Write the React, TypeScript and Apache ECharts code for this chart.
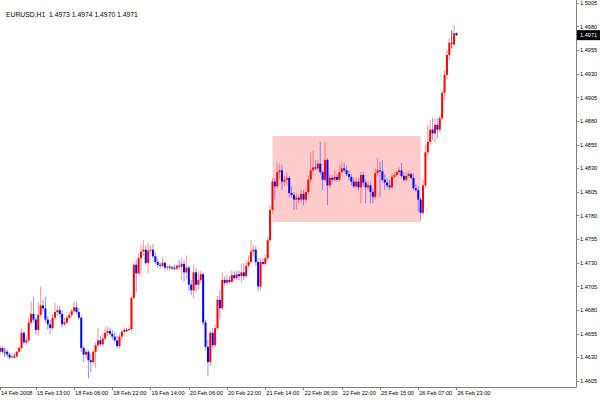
import React, { useEffect, useRef } from "react";
import * as echarts from "echarts";

const symbolLabel = "EURUSD,H1";

const opens = [
  1.4636, 1.4640, 1.4636, 1.4636, 1.4633, 1.4630, 1.4631, 1.4631, 1.4636, 1.4640,
  1.4656, 1.4646, 1.4648, 1.4667, 1.4676, 1.4670, 1.4659, 1.4675, 1.4685, 1.4682,
  1.4670, 1.4665, 1.4661, 1.4672, 1.4678, 1.4680, 1.4676, 1.4665, 1.4667, 1.4672,
  1.4675, 1.4679, 1.4683, 1.4678, 1.4672, 1.4640, 1.4633, 1.4636, 1.4627, 1.4625,
  1.4636, 1.4643, 1.4648, 1.4644, 1.4650, 1.4656, 1.4658, 1.4655, 1.4652, 1.4648,
  1.4642, 1.4652, 1.4657, 1.4659, 1.4659, 1.4660, 1.4693, 1.4728, 1.4719, 1.4735,
  1.4742, 1.4744, 1.4730, 1.4743, 1.4744, 1.4737, 1.4731, 1.4728, 1.4727, 1.4730,
  1.4725, 1.4726, 1.4725, 1.4725, 1.4724, 1.4727, 1.4726, 1.4729, 1.4720, 1.4725,
  1.4707, 1.4701, 1.4720, 1.4707, 1.4712, 1.4718, 1.4667, 1.4641, 1.4625, 1.4656,
  1.4643, 1.4661, 1.4691, 1.4682, 1.4712, 1.4709, 1.4712, 1.4710, 1.4717, 1.4714,
  1.4718, 1.4716, 1.4720, 1.4716, 1.4727, 1.4731, 1.4742, 1.4744, 1.4731, 1.4705,
  1.4731, 1.4729, 1.4735, 1.4754, 1.4786, 1.4816, 1.4811, 1.4826, 1.4828, 1.4816,
  1.4818, 1.4820, 1.4804, 1.4802, 1.4797, 1.4799, 1.4797, 1.4803, 1.4797, 1.4805,
  1.4818, 1.4828, 1.4831, 1.4830, 1.4835, 1.4826, 1.4818, 1.4839, 1.4812, 1.4820,
  1.4818, 1.4821, 1.4818, 1.4826, 1.4830, 1.4828, 1.4824, 1.4821, 1.4816, 1.4811,
  1.4816, 1.4810, 1.4823, 1.4815, 1.4810, 1.4812, 1.4805, 1.4800, 1.4825, 1.4828,
  1.4827, 1.4818, 1.4815, 1.4812, 1.4810, 1.4821, 1.4823, 1.4826, 1.4828, 1.4822,
  1.4818, 1.4822, 1.4824, 1.4820, 1.4809, 1.4807, 1.4797, 1.4783, 1.4812, 1.4847,
  1.4858, 1.4871, 1.4867, 1.4876, 1.4871, 1.4883, 1.4910, 1.4929, 1.4950, 1.4963,
  1.4961, 1.4973,
];

const closes = [
  1.4640, 1.4636, 1.4636, 1.4633, 1.4630, 1.4631, 1.4631, 1.4636, 1.4640, 1.4656,
  1.4646, 1.4648, 1.4667, 1.4676, 1.4670, 1.4659, 1.4675, 1.4685, 1.4682, 1.4670,
  1.4665, 1.4661, 1.4672, 1.4678, 1.4680, 1.4676, 1.4665, 1.4667, 1.4672, 1.4675,
  1.4679, 1.4683, 1.4678, 1.4672, 1.4640, 1.4633, 1.4636, 1.4627, 1.4625, 1.4636,
  1.4643, 1.4648, 1.4644, 1.4650, 1.4656, 1.4658, 1.4655, 1.4652, 1.4648, 1.4642,
  1.4652, 1.4657, 1.4659, 1.4659, 1.4660, 1.4693, 1.4728, 1.4719, 1.4735, 1.4742,
  1.4744, 1.4730, 1.4743, 1.4744, 1.4737, 1.4731, 1.4728, 1.4727, 1.4730, 1.4725,
  1.4726, 1.4725, 1.4725, 1.4724, 1.4727, 1.4726, 1.4729, 1.4720, 1.4725, 1.4707,
  1.4701, 1.4720, 1.4707, 1.4712, 1.4718, 1.4667, 1.4641, 1.4625, 1.4656, 1.4643,
  1.4661, 1.4691, 1.4682, 1.4712, 1.4709, 1.4712, 1.4710, 1.4717, 1.4714, 1.4718,
  1.4716, 1.4720, 1.4716, 1.4727, 1.4731, 1.4742, 1.4744, 1.4731, 1.4705, 1.4731,
  1.4729, 1.4735, 1.4754, 1.4786, 1.4816, 1.4811, 1.4826, 1.4828, 1.4816, 1.4818,
  1.4820, 1.4804, 1.4802, 1.4797, 1.4799, 1.4797, 1.4803, 1.4797, 1.4805, 1.4818,
  1.4828, 1.4831, 1.4830, 1.4835, 1.4826, 1.4818, 1.4839, 1.4812, 1.4820, 1.4818,
  1.4821, 1.4818, 1.4826, 1.4830, 1.4828, 1.4824, 1.4821, 1.4816, 1.4811, 1.4816,
  1.4810, 1.4823, 1.4815, 1.4810, 1.4812, 1.4805, 1.4800, 1.4825, 1.4828, 1.4827,
  1.4818, 1.4815, 1.4812, 1.4810, 1.4821, 1.4823, 1.4826, 1.4828, 1.4822, 1.4818,
  1.4822, 1.4824, 1.4820, 1.4809, 1.4807, 1.4797, 1.4783, 1.4812, 1.4847, 1.4858,
  1.4871, 1.4867, 1.4876, 1.4871, 1.4883, 1.4910, 1.4929, 1.4950, 1.4963, 1.4963,
  1.4973, 1.4971,
];

const highs = [
  1.4643, 1.4642, 1.4640, 1.4639, 1.4635, 1.4634, 1.4634, 1.4637, 1.4642, 1.4661,
  1.4658, 1.4652, 1.4672, 1.4689, 1.4694, 1.4672, 1.4689, 1.4705, 1.4691, 1.4694,
  1.4674, 1.4670, 1.4676, 1.4688, 1.4685, 1.4684, 1.4680, 1.4672, 1.4675, 1.4678,
  1.4682, 1.4689, 1.4689, 1.4682, 1.4674, 1.4642, 1.4639, 1.4638, 1.4634, 1.4638,
  1.4646, 1.4661, 1.4653, 1.4655, 1.4662, 1.4663, 1.4661, 1.4659, 1.4657, 1.4653,
  1.4655, 1.4659, 1.4662, 1.4661, 1.4662, 1.4695, 1.4731, 1.4733, 1.4740, 1.4749,
  1.4754, 1.4749, 1.4751, 1.4748, 1.4750, 1.4742, 1.4735, 1.4731, 1.4735, 1.4732,
  1.4728, 1.4728, 1.4727, 1.4728, 1.4729, 1.4733, 1.4735, 1.4733, 1.4738, 1.4727,
  1.4712, 1.4728, 1.4725, 1.4722, 1.4722, 1.4720, 1.4670, 1.4648, 1.4659, 1.4661,
  1.4665, 1.4695, 1.4701, 1.4720, 1.4716, 1.4717, 1.4716, 1.4722, 1.4721, 1.4722,
  1.4722, 1.4729, 1.4730, 1.4733, 1.4738, 1.4754, 1.4749, 1.4748, 1.4735, 1.4735,
  1.4735, 1.4739, 1.4758, 1.4791, 1.4820, 1.4820, 1.4836, 1.4835, 1.4834, 1.4822,
  1.4826, 1.4822, 1.4811, 1.4805, 1.4804, 1.4802, 1.4807, 1.4807, 1.4809, 1.4822,
  1.4847, 1.4849, 1.4839, 1.4839, 1.4858, 1.4828, 1.4858, 1.4841, 1.4824, 1.4823,
  1.4828, 1.4824, 1.4834, 1.4837, 1.4836, 1.4833, 1.4828, 1.4824, 1.4820, 1.4820,
  1.4820, 1.4826, 1.4826, 1.4818, 1.4816, 1.4815, 1.4809, 1.4830, 1.4841, 1.4837,
  1.4839, 1.4824, 1.4820, 1.4818, 1.4825, 1.4826, 1.4828, 1.4831, 1.4836, 1.4826,
  1.4826, 1.4827, 1.4826, 1.4825, 1.4813, 1.4812, 1.4799, 1.4818, 1.4855, 1.4876,
  1.4881, 1.4883, 1.4883, 1.4883, 1.4886, 1.4913, 1.4934, 1.4955, 1.4968, 1.4976,
  1.4982, 1.4974,
];

const lows = [
  1.4633, 1.4634, 1.4631, 1.4630, 1.4628, 1.4629, 1.4629, 1.4630, 1.4635, 1.4638,
  1.4644, 1.4643, 1.4645, 1.4665, 1.4667, 1.4654, 1.4653, 1.4672, 1.4678, 1.4667,
  1.4659, 1.4655, 1.4659, 1.4670, 1.4674, 1.4672, 1.4662, 1.4663, 1.4665, 1.4670,
  1.4672, 1.4677, 1.4676, 1.4670, 1.4636, 1.4625, 1.4629, 1.4608, 1.4614, 1.4623,
  1.4619, 1.4640, 1.4642, 1.4642, 1.4648, 1.4653, 1.4653, 1.4649, 1.4646, 1.4640,
  1.4640, 1.4648, 1.4655, 1.4657, 1.4658, 1.4658, 1.4691, 1.4699, 1.4717, 1.4717,
  1.4737, 1.4728, 1.4719, 1.4739, 1.4735, 1.4729, 1.4725, 1.4724, 1.4725, 1.4722,
  1.4722, 1.4722, 1.4723, 1.4722, 1.4722, 1.4723, 1.4712, 1.4710, 1.4713, 1.4701,
  1.4696, 1.4693, 1.4699, 1.4701, 1.4709, 1.4664, 1.4638, 1.4610, 1.4621, 1.4640,
  1.4641, 1.4659, 1.4670, 1.4680, 1.4706, 1.4707, 1.4708, 1.4708, 1.4711, 1.4712,
  1.4712, 1.4710, 1.4712, 1.4714, 1.4725, 1.4729, 1.4737, 1.4727, 1.4700, 1.4701,
  1.4727, 1.4727, 1.4731, 1.4752, 1.4782, 1.4797, 1.4809, 1.4818, 1.4807, 1.4811,
  1.4812, 1.4799, 1.4799, 1.4786, 1.4786, 1.4793, 1.4793, 1.4791, 1.4793, 1.4802,
  1.4815, 1.4826, 1.4828, 1.4828, 1.4823, 1.4807, 1.4816, 1.4791, 1.4809, 1.4813,
  1.4816, 1.4816, 1.4816, 1.4824, 1.4826, 1.4822, 1.4818, 1.4812, 1.4809, 1.4809,
  1.4807, 1.4793, 1.4811, 1.4793, 1.4807, 1.4793, 1.4793, 1.4797, 1.4822, 1.4800,
  1.4815, 1.4807, 1.4809, 1.4807, 1.4809, 1.4819, 1.4821, 1.4824, 1.4820, 1.4816,
  1.4816, 1.4820, 1.4818, 1.4807, 1.4805, 1.4784, 1.4775, 1.4781, 1.4809, 1.4844,
  1.4855, 1.4860, 1.4858, 1.4862, 1.4868, 1.4881, 1.4902, 1.4924, 1.4945, 1.4957,
  1.4960, 1.4970,
];

// bar index of each time label on the x axis, and the label text
const xTickIndex = [0, 15, 31, 47, 63, 79, 95, 111, 127, 143, 159, 175, 191];
const xTickLabels = [
  "14 Feb 2008", "15 Feb 13:00", "18 Feb 06:00", "18 Feb 22:00", "19 Feb 14:00",
  "20 Feb 06:00", "20 Feb 22:00", "21 Feb 14:00", "22 Feb 06:00", "22 Feb 22:00",
  "25 Feb 15:00", "26 Feb 07:00", "26 Feb 23:00",
];
const slotCount = 242; // bars plus the empty shift area on the right

const yTicks = [
  1.4605, 1.463, 1.4655, 1.468, 1.4705, 1.473, 1.4755, 1.478, 1.4805,
  1.483, 1.4855, 1.488, 1.4905, 1.493, 1.4955, 1.498, 1.5005,
];
const yMin = 1.45987;
const yMax = 1.50082;

// highlighted consolidation box
const boxStartBar = 114;
const boxEndBar = 176;
const boxTop = 1.48643;
const boxBottom = 1.47733;

const FONT = "'Liberation Sans', Arial, sans-serif";

export default function App() {
  const ref = useRef<HTMLDivElement>(null);

  useEffect(() => {
    if (!ref.current) return;
    const chart = echarts.init(ref.current, undefined, { renderer: "svg" });
    const categories = Array.from({ length: slotCount }, (_, i) => String(i));
    const rows = opens.map((o, i) => [i, o, closes[i], lows[i], highs[i]]);
    const last = opens.length - 1;
    const fmt = (v: number) => v.toFixed(4);
    const title = `${symbolLabel}  ${fmt(opens[last])} ${fmt(highs[last])} ${fmt(lows[last])} ${fmt(closes[last])}`;

    const renderCandle = (params: any, api: any) => {
      const i = api.value(0);
      const o = api.value(1);
      const c = api.value(2);
      const l = api.value(3);
      const h = api.value(4);
      const top = api.coord([i, Math.max(o, c)]);
      const bot = api.coord([i, Math.min(o, c)]);
      const hi = api.coord([i, h]);
      const lo = api.coord([i, l]);
      const x = top[0];
      const doji = o === c;
      const up = c > o;
      const body = doji ? "#303030" : up ? "#ff0000" : "#0000ff";
      const wick = doji ? "rgba(40,40,40,0.75)" : up ? "rgba(255,40,40,0.5)" : "rgba(40,40,255,0.5)";
      return {
        type: "group",
        children: [
          {
            type: "line",
            shape: { x1: x, y1: hi[1], x2: x, y2: lo[1] },
            style: { stroke: wick, lineWidth: 1 },
          },
          {
            type: "rect",
            shape: { x: x - 1, y: top[1], width: 2, height: Math.max(1, bot[1] - top[1]) },
            style: { fill: body },
          },
        ],
      };
    };

    chart.setOption({
      animation: false,
      backgroundColor: "#ffffff",
      title: {
        text: title,
        left: 1,
        top: 6,
        textStyle: { fontSize: 6.8, fontWeight: "normal", color: "#000", fontFamily: FONT },
      },
      grid: { left: 0, right: 24, top: 0, bottom: 13, containLabel: false, outerBoundsMode: "none" },
      xAxis: {
        type: "category",
        data: categories,
        boundaryGap: false,
        axisLine: { show: true, lineStyle: { color: "#808080", width: 1 } },
        axisTick: {
          show: true,
          length: 3,
          interval: (index: number) => xTickIndex.includes(index),
          lineStyle: { color: "#808080" },
        },
        axisLabel: {
          interval: (index: number) => xTickIndex.includes(index),
          formatter: (_v: string, idx: number) => {
            const k = xTickIndex.indexOf(idx);
            return k >= 0 ? xTickLabels[k] : "";
          },
          showMinLabel: true,
          showMaxLabel: true,
          align: "left",
          margin: 3,
          padding: [0, 0, 0, 1],
          fontSize: 5.6,
          color: "#000",
          fontFamily: FONT,
          hideOverlap: false,
        },
        splitLine: { show: false },
      },
      yAxis: {
        type: "value",
        position: "right",
        min: yMin,
        max: yMax,
        scale: true,
        axisLine: { show: true, lineStyle: { color: "#808080", width: 1 } },
        axisTick: { show: true, length: 3, customValues: yTicks, lineStyle: { color: "#808080" } },
        axisLabel: {
          customValues: yTicks,
          formatter: (v: number) => v.toFixed(4),
          margin: 4,
          fontSize: 5.6,
          color: "#000",
          fontFamily: FONT,
          showMinLabel: true,
          showMaxLabel: true,
        },
        splitLine: { show: false },
      },
      series: [
        {
          type: "line",
          data: [],
          z: 1,
          silent: true,
          markArea: {
            silent: true,
            itemStyle: { color: "#ffcccc" },
            data: [[{ xAxis: boxStartBar, yAxis: boxTop }, { xAxis: boxEndBar, yAxis: boxBottom }]],
          },
        },
        {
          type: "custom",
          z: 3,
          data: rows,
          encode: { x: 0, y: [1, 2, 3, 4] },
          renderItem: renderCandle,
          clip: true,
        },
      ],
    });

    // current-price tag on the price scale, placed through the y axis scale
    const py = chart.convertToPixel({ yAxisIndex: 0 }, closes[last]) as number;
    const px = chart.convertToPixel({ xAxisIndex: 0 }, slotCount - 1) as number;
    chart.setOption({
      graphic: [
        {
          type: "text",
          x: px + 1,
          y: py,
          z: 10,
          style: {
            text: fmt(closes[last]),
            fill: "#fff",
            backgroundColor: "#000",
            padding: [2, 3, 2, 3],
            fontSize: 5.6,
            fontFamily: FONT,
            verticalAlign: "middle",
            align: "left",
          },
        },
      ],
    });
    return () => chart.dispose();
  }, []);

  return (
    <div
      ref={ref}
      style={{ position: "fixed", left: 0, top: 0, width: 600, height: 400, background: "#fff" }}
    />
  );
}
